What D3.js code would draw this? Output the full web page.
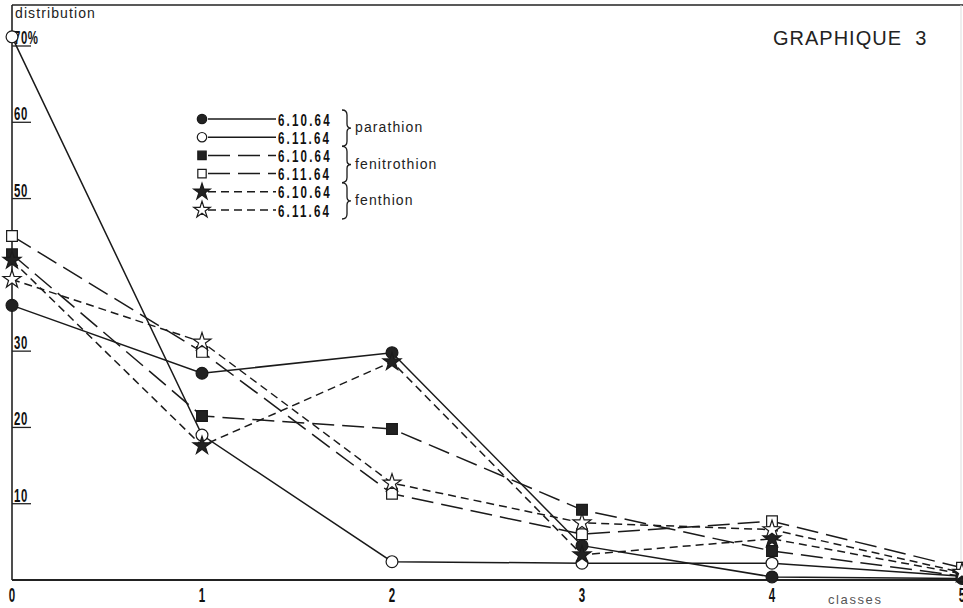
<!DOCTYPE html>
<html><head><meta charset="utf-8">
<script src="https://cdn.jsdelivr.net/npm/d3@7"></script>
<style>
body{margin:0;background:#fff;}
svg{display:block;}
text{font-family:"Liberation Sans",Arial,sans-serif;}
</style></head>
<body><svg id="c" width="963" height="608"></svg>
<script>
// ---- data ----
const classes = [0, 1, 2, 3, 4, 5];
const parathion_61064 = [36.0, 27.1, 29.8, 4.5, 0.4, 0.2];
const parathion_61164 = [71.2, 19.0, 2.4, 2.2, 2.2, 0.5];
const fenitrothion_61064 = [42.7, 21.5, 19.8, 9.2, 3.8, 0.5];
const fenitrothion_61164 = [45.1, 29.9, 11.3, 6.0, 7.7, 1.6];
const fenthion_61064 = [41.9, 17.6, 28.6, 3.3, 5.4, 0.8];
const fenthion_61164 = [39.4, 31.2, 12.7, 7.5, 6.6, 1.0];
const yTicks = [10, 20, 30, 50, 60, 70];
const xTickLabels = ["0", "1", "2", "3", "4", "5"];
const seriesNames = ["6.10.64", "6.11.64", "6.10.64", "6.11.64", "6.10.64", "6.11.64"];
const groupNames = ["parathion", "fenitrothion", "fenthion"];

const series = [
  {name: seriesNames[0], values: parathion_61064, sym: d3.symbolCircle, fill: "#222", dash: null},
  {name: seriesNames[1], values: parathion_61164, sym: d3.symbolCircle, fill: "#fff", dash: null},
  {name: seriesNames[2], values: fenitrothion_61064, sym: d3.symbolSquare, fill: "#222", dash: "22,8"},
  {name: seriesNames[3], values: fenitrothion_61164, sym: d3.symbolSquare, fill: "#fff", dash: "22,8"},
  {name: seriesNames[4], values: fenthion_61064, sym: d3.symbolStar, fill: "#222", dash: "8,5"},
  {name: seriesNames[5], values: fenthion_61164, sym: d3.symbolStar, fill: "#fff", dash: "8,5"}
];
const symSize = s => s === d3.symbolCircle ? 110 : (s === d3.symbolSquare ? 115 : 100);

const svg = d3.select("#c");
const x = d3.scaleLinear().domain([0, 5]).range([12, 962]);
const y = d3.scaleLinear().domain([0, 70]).range([580, 46]);

// condensed text helper
function condText(parent, tx, ty, str, size, sx, anchor, ls, weight) {
  const g = parent.append("g").attr("transform", `translate(${tx},${ty}) scale(${sx},1)`);
  return g.append("text").attr("x", 0).attr("y", 0).attr("font-size", size)
    .attr("font-weight", weight || "normal")
    .attr("text-anchor", anchor || "start").attr("letter-spacing", ls || 0)
    .attr("fill", "#111").attr("xml:space", "preserve").text(str);
}

// frame
svg.append("line").attr("x1", 12).attr("x2", 963).attr("y1", 5).attr("y2", 5).attr("stroke", "#222").attr("stroke-width", 1.6);
svg.append("line").attr("x1", 961).attr("x2", 961).attr("y1", 5).attr("y2", 600).attr("stroke", "#ddd").attr("stroke-width", 1);
svg.append("line").attr("x1", 12).attr("x2", 12).attr("y1", 5).attr("y2", y(0)).attr("stroke", "#222").attr("stroke-width", 1.6);
svg.append("line").attr("x1", 12).attr("x2", 963).attr("y1", y(0)).attr("y2", y(0)).attr("stroke", "#222").attr("stroke-width", 1.8);

// y ticks
const yt = svg.append("g");
yTicks.forEach(v => {
  yt.append("line").attr("x1", 12).attr("x2", 31).attr("y1", y(v)).attr("y2", y(v)).attr("stroke", "#222").attr("stroke-width", 1.3);
  condText(yt, 14, y(v) - 2, v === 70 ? "70%" : String(v), 19, 0.6, "start", 1, "bold");
});

// x tick labels
classes.forEach((c, i) => {
  condText(svg, x(c), 602, xTickLabels[i], 21, 0.55, "middle", 0, "bold");
});
svg.append("text").attr("x", 828).attr("y", 604)
  .attr("font-size", 13).attr("fill", "#555").attr("letter-spacing", 1.6).text("classes");
svg.append("text").attr("x", 15).attr("y", 18)
  .attr("font-size", 14).attr("fill", "#222").attr("letter-spacing", 1.1).text("distribution");
svg.append("text").attr("x", 773).attr("y", 45)
  .attr("font-size", 20).attr("fill", "#222").attr("letter-spacing", 1).attr("xml:space", "preserve").text("GRAPHIQUE  3");

// lines
const line = d3.line().x((d, i) => x(classes[i])).y(d => y(d));
series.forEach(s => {
  svg.append("path").attr("d", line(s.values)).attr("fill", "none")
    .attr("stroke", "#1a1a1a").attr("stroke-width", 1.5)
    .attr("stroke-dasharray", s.dash);
});
// markers
series.forEach(s => {
  svg.append("g").selectAll("path").data(s.values).join("path")
    .attr("d", d3.symbol().type(s.sym).size(symSize(s.sym)))
    .attr("transform", (d, i) => `translate(${x(classes[i])},${y(d)})`)
    .attr("fill", s.fill).attr("stroke", "#1a1a1a").attr("stroke-width", 1.2);
});

// legend
const lg = svg.append("g");
const ly0 = 119, ldy = 18.2;
series.forEach((s, i) => {
  const yy = ly0 + i * ldy;
  lg.append("line").attr("x1", 208).attr("x2", 276).attr("y1", yy).attr("y2", yy)
    .attr("stroke", "#1a1a1a").attr("stroke-width", 1.5).attr("stroke-dasharray", s.dash);
  lg.append("path").attr("d", d3.symbol().type(s.sym).size(s.sym === d3.symbolStar ? 85 : 70))
    .attr("transform", `translate(202,${yy})`).attr("fill", s.fill).attr("stroke", "#1a1a1a").attr("stroke-width", 1.2);
  condText(lg, 278, yy + 6.5, s.name, 17, 0.68, "start", 3.2, "bold");
});
groupNames.forEach((g, k) => {
  const yTop = ly0 + 2 * k * ldy - 9, yBot = ly0 + (2 * k + 1) * ldy + 9, ym = (yTop + yBot) / 2;
  const bx = 342;
  lg.append("path").attr("d",
    `M${bx},${yTop} q5,0 5,5 v${ym - yTop - 9} q0,4 4,4 q-4,0 -4,4 v${yBot - ym - 9} q0,5 -5,5`)
    .attr("fill", "none").attr("stroke", "#1a1a1a").attr("stroke-width", 1.3);
  lg.append("text").attr("x", 355).attr("y", ym + 4)
    .attr("font-size", 14).attr("fill", "#222").attr("letter-spacing", 1.1).text(g);
});
</script></body></html>
